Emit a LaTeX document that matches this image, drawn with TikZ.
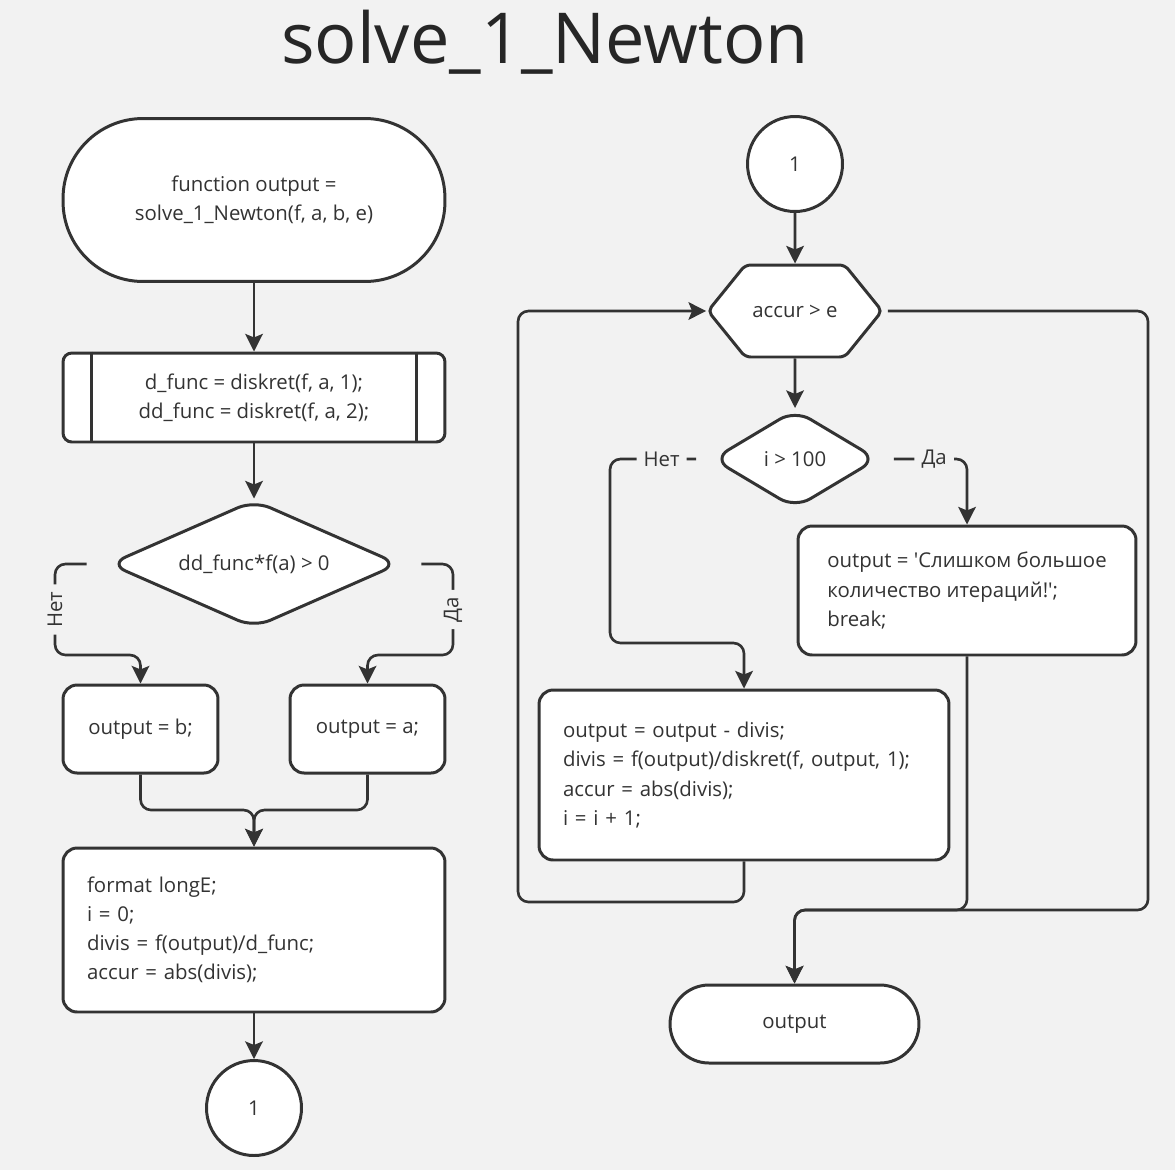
\documentclass[tikz,border=0pt]{standalone}
\usepackage{fontspec}
\setmainfont{Open Sans}
\usepackage{xcolor}
\usetikzlibrary{arrows.meta}
\usetikzlibrary{shapes.geometric}
\usetikzlibrary{shapes.symbols}

\definecolor{bgcol}{HTML}{F2F2F2}
\definecolor{ink}{HTML}{333333}

\tikzset{
  txt/.style={font=\fontsize{11.6}{16.6}\selectfont, text=ink},
  block/.style={txt, draw=ink, line width=1.7pt, fill=white, rounded corners=8pt},
  terminal/.style={block, align=center},
  decision/.style={txt, diamond, draw=ink, line width=1.7pt, fill=white,
    rounded corners=10pt, inner sep=0pt},
  hexa/.style={txt, signal, signal to=east and west, signal pointer angle=102,
    draw=ink, line width=1.7pt, fill=white, rounded corners=3pt, inner sep=0pt},
  connector/.style={txt, circle, draw=ink, line width=1.7pt, fill=white, minimum size=1.9cm},
  line/.style={draw=ink, line width=1.5pt, rounded corners=6pt},
  flow/.style={line, -{Stealth[length=10pt, width=10pt, inset=2pt]}},
  lbl/.style={txt, fill=bgcol, inner sep=4pt}
}

\begin{document}
\begin{tikzpicture}[x=0.02cm, y=-0.02cm]
  % Background
  \fill[bgcol] (0,0) rectangle (1175,1170);
  \useasboundingbox (0,0) rectangle (1175,1170);

  % Title
  \node[anchor=base, font=\fontsize{40}{48}\selectfont, text=black!85] (title) at (545,63) {solve\_1\_Newton};

  % Left column
  \node[terminal, rounded corners=1.6cm, minimum width=7.64cm, minimum height=3.26cm] (start) at (254,200)
    {function output =\\ solve\_1\_Newton(f, a, b, e)};
  \node[block, rounded corners=5pt, align=center, minimum width=7.64cm, minimum height=1.78cm] (deriv) at (254,397.5)
    {d\_func = diskret(f, a, 1);\\ dd\_func = diskret(f, a, 2);};
  \draw[draw=ink, line width=1.7pt] ([xshift=0.6cm]deriv.north west) -- ([xshift=0.6cm]deriv.south west);
  \draw[draw=ink, line width=1.7pt] ([xshift=-0.6cm]deriv.north east) -- ([xshift=-0.6cm]deriv.south east);
  \node[decision, shape aspect=2.2, minimum width=5.8cm, minimum height=2.56cm] (cond) at (254,564)
    {dd\_func*f(a) > 0};
  \node[block, minimum width=3.1cm, minimum height=1.76cm] (resb) at (140.5,729) {output = b;};
  \node[block, minimum width=3.1cm, minimum height=1.76cm] (resa) at (367.5,729) {output = a;};
  \node[block, align=left, text width=6.68cm, inner xsep=0.48cm, minimum height=3.28cm] (init) at (254,930)
    {format longE;\\ i = 0;\\ divis = f(output)/d\_func;\\ accur = abs(divis);};
  \node[connector] (jumpA) at (254,1108) {1};

  % Left connectors
  \draw[flow] (start) -- (deriv);
  \draw[flow] (deriv) -- (cond);
  \draw[flow] ([xshift=-0.42cm]cond.west) -- (55,564) -- node[lbl, rotate=90] {Нет} (55,655) -- (140.5,655) -- (resb.north);
  \draw[flow] ([xshift=0.42cm]cond.east) -- (453,564) -- node[lbl, rotate=90] {Да} (453,655) -- (367.5,655) -- (resa.north);
  \draw[flow] (resb.south) -- (140.5,810) -- (254,810) -- (init.north);
  \draw[flow] (resa.south) -- (367.5,810) -- (254,810) -- (init.north);
  \draw[flow] (init) -- (jumpA);

  % Right column
  \node[connector] (jumpB) at (795,164) {1};
  \node[hexa, minimum width=3.48cm, minimum height=1.84cm] (loop) at (795,311) {accur > e};
  \node[decision, shape aspect=1.66, minimum width=3.3cm, minimum height=1.98cm] (count) at (795,459) {i > 100};
  \node[block, align=left, minimum width=6.76cm, minimum height=2.58cm] (msg) at (967,590.5)
    {output = \textquotesingle Слишком большое\\ количество итераций!\textquotesingle;\\ break;};
  \node[block, align=left, text width=7.24cm, inner xsep=0.48cm, minimum height=3.4cm] (step) at (744,775)
    {output = output - divis;\\ divis = f(output)/diskret(f, output, 1);\\ accur = abs(divis);\\ i = i + 1;};
  \node[terminal, rounded corners=0.78cm, minimum width=4.98cm, minimum height=1.56cm] (fin) at (794.5,1024) {output};

  % Right connectors
  \draw[flow] (jumpB) -- (loop);
  \draw[flow] (loop) -- (count);
  \draw[flow] ([xshift=-0.3cm]count.west) -- node[lbl, pos=0.4] {Нет} (610,459) -- (610,643) -- (744,643) -- (step.north);
  \draw[flow] ([xshift=0.3cm]count.east) -- node[lbl, pos=0.55] {Да} (967,459) -- (msg.north);
  \draw[flow] (step.south) -- (744,902) -- (518,902) -- (518,311) -- (loop.west);
  \draw[flow] ([xshift=0.08cm]loop.east) -- (1148,311) -- (1148,910) -- (794.5,910) -- (fin.north);
  \draw[flow] (msg.south) -- (967,910) -- (794.5,910) -- (fin.north);
\end{tikzpicture}
\end{document}
